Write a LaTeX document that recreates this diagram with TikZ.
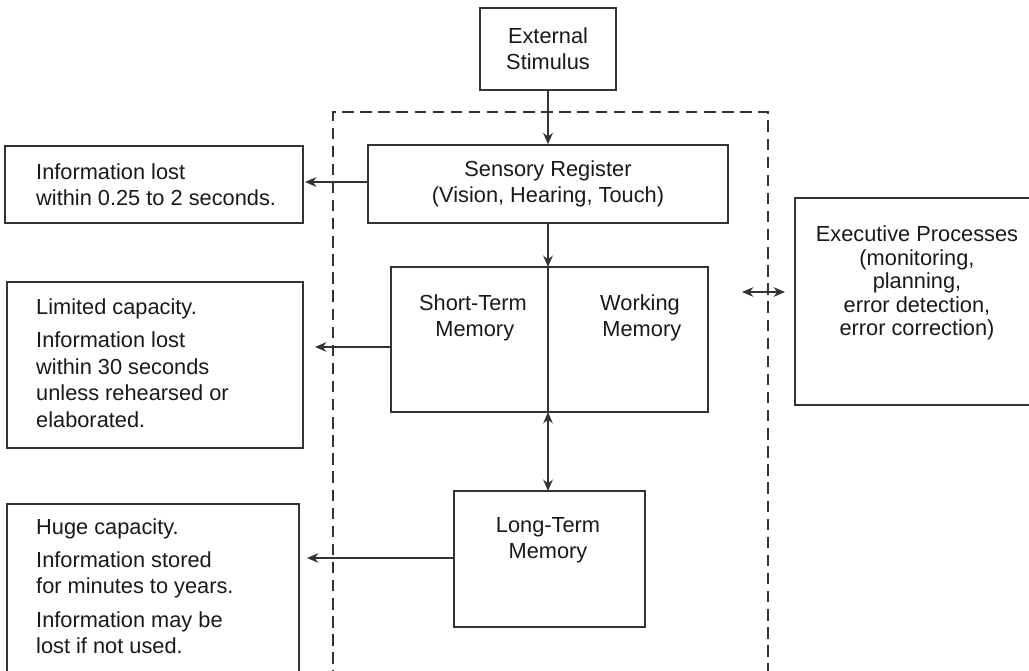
\documentclass[tikz,border=0pt]{standalone}
\usepackage{fontspec}
\setmainfont{Liberation Sans}
\usepackage{tikz}
\usetikzlibrary{arrows.meta}

\tikzset{
  box/.style={draw=black!80, line width=0.85pt, inner sep=0pt},
  txt/.style={align=center, font=\fontsize{12.4}{15}\selectfont, text=black!90},
  note/.style={align=left, anchor=west, font=\fontsize{12.4}{15}\selectfont, text=black!90},
  conn/.style={draw=black!80, line width=0.75pt, >={Stealth[length=6.5pt, width=5.5pt]}}
}

\begin{document}
\begin{tikzpicture}[x=0.02cm, y=-0.02cm]
    \useasboundingbox (0,0) rectangle (1029,671);
    \clip (0,0) rectangle (1029,671);
    \draw[black!80, line width=0.75pt, dash pattern=on 6.5pt off 3.8pt] (333,700) -- (333,112) -- (768,112) -- (768,700);
    \node[box, txt, minimum width=2.72cm, minimum height=1.64cm] (es) at (548,49) {External\\Stimulus};
    \node[box, txt, minimum width=7.2cm, minimum height=1.56cm] (sr) at (548,184) {Sensory Register\\(Vision, Hearing, Touch)};
    \node[box, minimum width=6.34cm, minimum height=2.9cm] (stm) at (549.5,339.5) {};
    \node[txt] (stmtext) at (473,318) {Short-Term\\ \,Memory};
    \node[txt] (wmtext) at (640,318) {Working\\ \,Memory};
    \node[box, minimum width=3.82cm, minimum height=2.72cm] (ltm) at (549.5,559) {};
    \node[txt] (ltmtext) at (548,540) {Long-Term\\Memory};
    \node[box, minimum width=4.88cm, minimum height=4.14cm] (exec) at (917,301.5) {};
    \node[txt, font=\fontsize{12.4}{13.4}\selectfont] (exectext) at (917,283) {Executive Processes\\(monitoring,\\planning,\\error detection,\\error correction)};
    \node[box, minimum width=5.96cm, minimum height=1.54cm] (lost1) at (154,184.5) {};
    \node[note] (lost1text) at (30,185) {Information lost\\within 0.25 to 2 seconds.};
    \node[box, minimum width=5.92cm, minimum height=3.32cm] (lost2) at (155,365) {};
    \node[note] (lost2text) at (30,363) {Limited capacity.\\[4pt]Information lost\\within 30 seconds\\unless rehearsed or\\elaborated.};
    \node[box, minimum width=5.84cm, minimum height=3.92cm] (lost3) at (153,602) {};
    \node[note] (lost3text) at (30,586) {Huge capacity.\\[4pt]Information stored\\for minutes to years.\\[4pt]Information may be\\lost if not used.};
    \draw[box] (548,267) -- (548,412);
    \coordinate (a1) at (305,182);
    \coordinate (a2) at (315,347);
    \coordinate (a3) at (307,558);
    \coordinate (e1) at (742,292);
    \coordinate (e2) at (785,292);
    \draw[conn, ->] (es) -- (es |- sr.north);
    \draw[conn, ->] (sr.west |- a1) -- (a1);
    \draw[conn, ->] (548,223) -- (548,267);
    \draw[conn, ->] (stm.west |- a2) -- (a2);
    \draw[conn, <->] (548,412) -- (548,491);
    \draw[conn, ->] (ltm.west |- a3) -- (a3);
    \draw[conn, <->] (e1) -- (e2);
\end{tikzpicture}
\end{document}
